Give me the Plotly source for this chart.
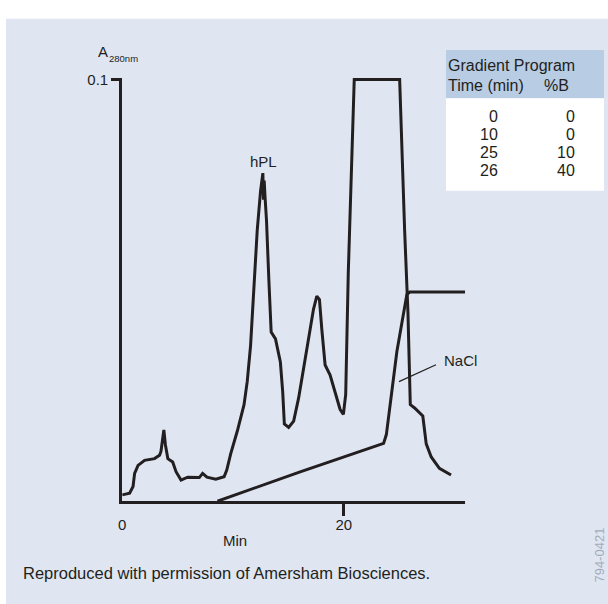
import plotly.graph_objects as go

# ---------------- data ----------------
hplc_t = [0.0, 0.67, 0.98, 1.12, 1.43, 2.02, 2.92, 3.37, 3.50, 3.76, 3.90, 4.12, 4.56, 4.86,
          5.31, 5.91, 6.96, 7.26, 7.65, 8.45, 9.20, 9.44, 9.80, 10.40, 11.0, 11.29, 11.59,
          11.89, 12.19, 12.49, 12.62, 12.70, 12.76, 12.82, 12.90, 13.03, 13.24, 13.45, 13.84,
          14.28, 14.49, 14.64, 15.03, 15.48, 15.93, 16.38, 16.97, 17.27, 17.57, 17.81, 18.02,
          18.32, 18.77, 19.22, 19.67, 19.97, 20.18, 20.41, 20.72, 20.95, 25.05, 25.20, 25.50,
          25.80, 26.01, 26.40, 27.14, 27.45, 27.90, 28.64, 29.69]
hplc_a = [0.0015, 0.0019, 0.0035, 0.0066, 0.0085, 0.0097, 0.0101, 0.0109, 0.0118, 0.0169,
          0.0134, 0.0101, 0.0093, 0.0070, 0.0050, 0.0057, 0.0056, 0.0066, 0.0057, 0.0052,
          0.0058, 0.0074, 0.0113, 0.0167, 0.0229, 0.0284, 0.0369, 0.0494, 0.0642, 0.0735,
          0.0770, 0.0778, 0.0715, 0.0760, 0.0720, 0.0665, 0.0525, 0.0401, 0.0385, 0.0330,
          0.0260, 0.0183, 0.0175, 0.0190, 0.0245, 0.0315, 0.0408, 0.0455, 0.0486, 0.0478,
          0.0408, 0.0323, 0.0299, 0.0260, 0.0218, 0.0206, 0.0253, 0.0540, 0.0798, 0.1000,
          0.1000, 0.0875, 0.0642, 0.0447, 0.0229, 0.0221, 0.0202, 0.0136, 0.0105, 0.0078,
          0.0062]

nacl_t = [8.6, 16.0, 23.6, 23.85, 24.8, 25.7, 25.95, 30.95]
nacl_a = [0.0, 0.0069, 0.0137, 0.0158, 0.0355, 0.0490, 0.0496, 0.0496]

x_tick_vals = [20]
x_tick_text = ["20"]
x_zero_val = 0
x_zero_text = "0"
y_tick_vals = [0.1]
y_tick_text = ["0.1"]

grad_title = "Gradient Program"
grad_cols = ["Time (min)", "%B"]
grad_time = [0, 10, 25, 26]
grad_b = [0, 0, 10, 40]

caption = "Reproduced with permission of Amersham Biosciences."
code_id = "794-0421"

# ---------------- style ----------------
W, H = 608, 604
INK = "#231f20"
FONT = "Liberation Sans, Arial, Helvetica, sans-serif"
PANEL = "#dfe6f2"
HEAD = "#b8cce4"

def px(x):
    return x / W

def py(y):
    return 1 - y / H

x_left, x_right = 122.2, 465.0
y_bottom, y_top = 500.0, 71.6

fig = go.Figure()

fig.add_trace(go.Scatter(x=hplc_t, y=hplc_a, mode="lines",
                         line=dict(color=INK, width=3), hoverinfo="skip", showlegend=False))
fig.add_trace(go.Scatter(x=nacl_t, y=nacl_a, mode="lines",
                         line=dict(color=INK, width=3), hoverinfo="skip", showlegend=False))

shapes = [
    dict(type="rect", xref="paper", yref="paper", x0=px(6), x1=1.0, y0=0.0, y1=py(12),
         fillcolor=PANEL, line=dict(width=0), layer="below"),
    dict(type="rect", xref="paper", yref="paper", x0=px(446), x1=px(604), y0=py(92.3), y1=py(43.4),
         fillcolor=HEAD, line=dict(width=0), layer="below"),
    dict(type="rect", xref="paper", yref="paper", x0=px(446), x1=px(604), y0=py(186), y1=py(92.3),
         fillcolor="white", line=dict(width=0), layer="below"),
    dict(type="line", xref="paper", yref="paper", x0=px(399), y0=py(379), x1=px(436), y1=py(362),
         line=dict(color=INK, width=1.2)),
]

ann = []
def text(x, y, s, size=15, xanchor="center", color="#231f20", angle=0):
    ann.append(dict(x=px(x), y=py(y), xref="paper", yref="paper", text=s, showarrow=False,
                    xanchor=xanchor, yanchor="middle", textangle=angle,
                    font=dict(family=FONT, size=size, color=color)))

text(263, 156, "hPL", 15)
text(442, 358, "NaCl", 15, xanchor="left")
text(96.5, 45, "A", 15, xanchor="left")
text(107, 52, "280nm", 9.5, xanchor="left")
text(234.5, 540, "Min", 15)
text(20.5, 573, caption, 16.5, xanchor="left")
text(600, 555, code_id, 13, color="#a3abba", angle=-90)

# "0" label on the x axis (no tick mark there)
ann.append(dict(x=x_zero_val, y=py(523.5), xref="x", yref="paper", text=x_zero_text,
                showarrow=False, xanchor="center", yanchor="middle",
                font=dict(family=FONT, size=15, color=INK)))

# gradient table
text(446, 59.5, grad_title, 16, xanchor="left")
text(446, 79, grad_cols[0], 16, xanchor="left")
text(556, 79, grad_cols[1], 16)
for i, (tv, bv) in enumerate(zip(grad_time, grad_b)):
    yy = 110.3 + i * 18.3
    text(499.5, yy, str(tv), 16, xanchor="right")
    text(577, yy, str(bv), 16, xanchor="right")

fig.update_layout(
    width=W, height=H,
    margin=dict(l=0, r=0, t=0, b=0),
    paper_bgcolor="white",
    plot_bgcolor="rgba(0,0,0,0)",
    shapes=shapes,
    annotations=ann,
    font=dict(family=FONT, size=15, color=INK),
    xaxis=dict(domain=[px(x_left), px(x_right)], range=[0, 30.95],
               showline=True, linecolor=INK, linewidth=3,
               tickvals=x_tick_vals, ticktext=x_tick_text,
               ticks="outside", ticklen=12, tickwidth=3, tickcolor=INK,
               ticklabelstandoff=-4,
               showgrid=False, zeroline=False, fixedrange=True,
               tickfont=dict(family=FONT, size=15, color=INK)),
    yaxis=dict(domain=[py(y_bottom), py(y_top)], range=[0, 0.1004],
               showline=True, linecolor=INK, linewidth=3,
               tickvals=y_tick_vals, ticktext=y_tick_text,
               ticks="outside", ticklen=8, tickwidth=3, tickcolor=INK,
               showgrid=False, zeroline=False, fixedrange=True,
               tickfont=dict(family=FONT, size=15, color=INK)),
)

fig.write_html("out.html", config={"displayModeBar": False},
               post_script="document.body.style.margin='0px';document.body.style.padding='0px';")
